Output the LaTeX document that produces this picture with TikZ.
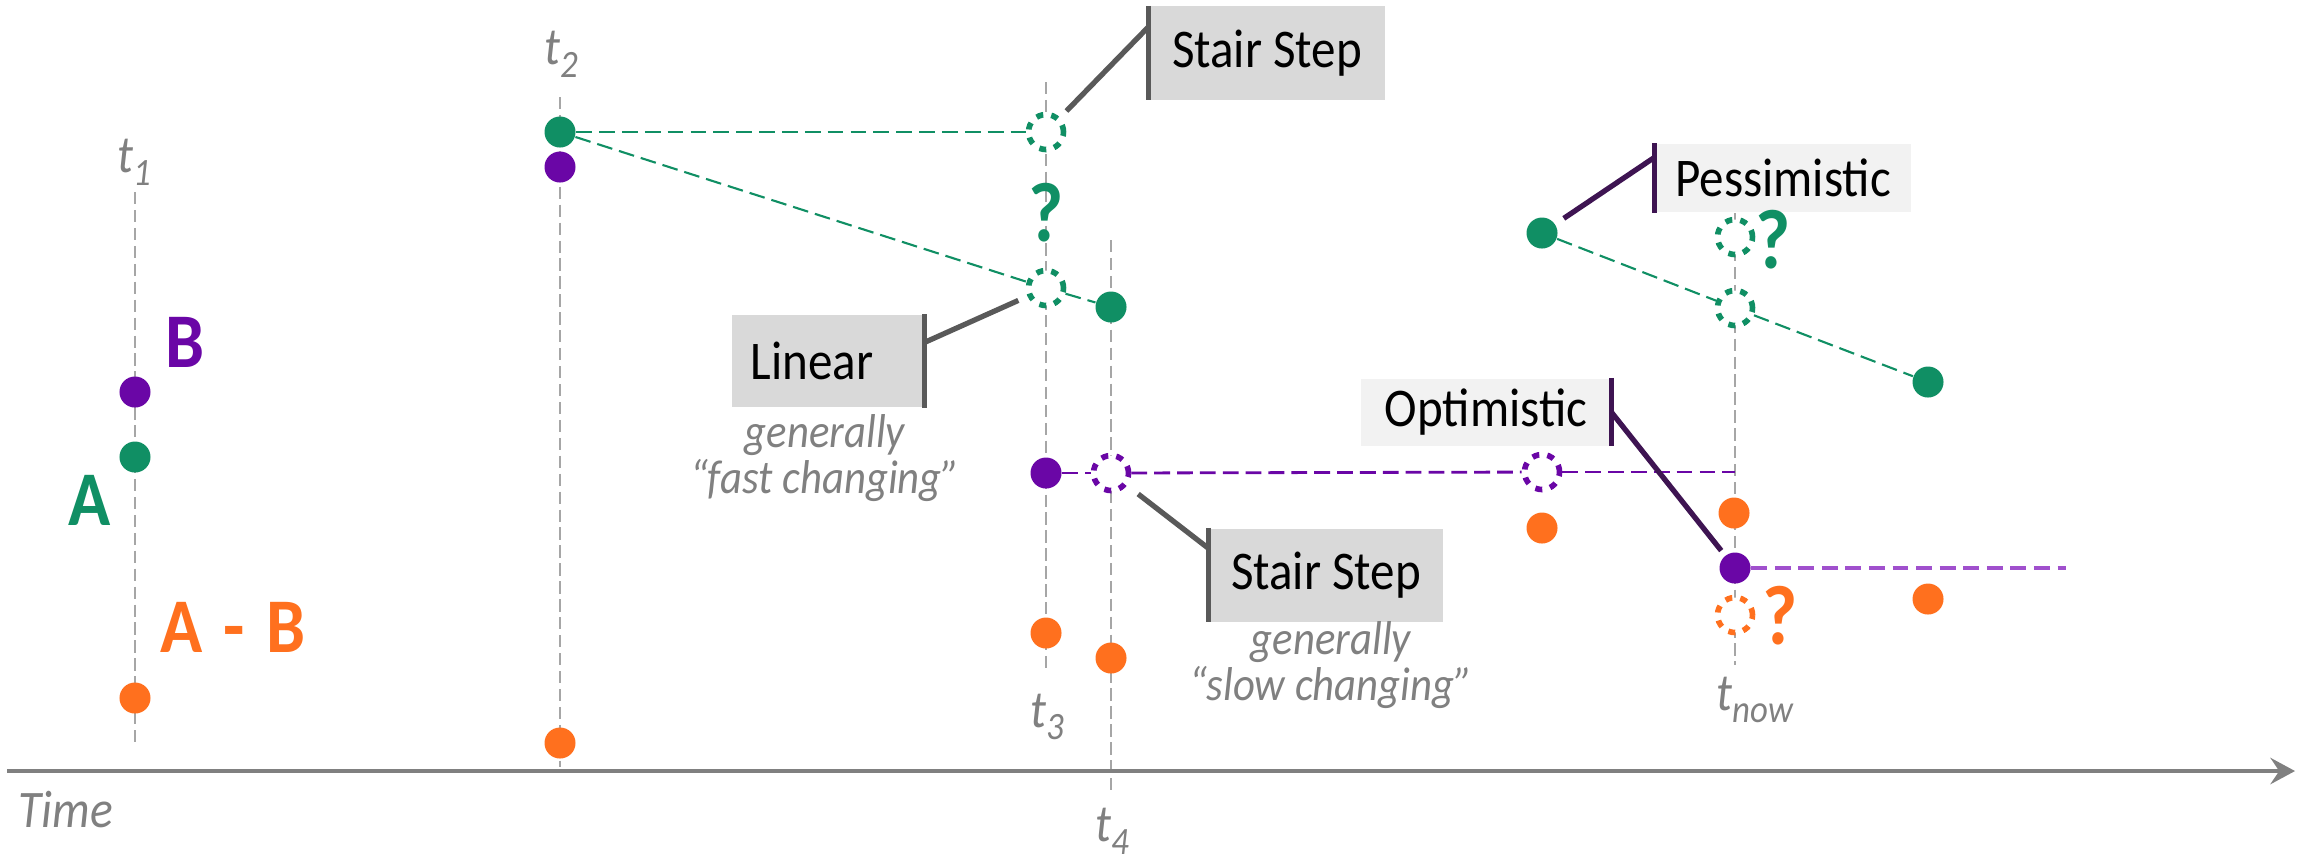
\documentclass[tikz,border=0pt]{standalone}
\usepackage{fontspec}
\setmainfont{Carlito}[FakeStretch=0.9]
\usetikzlibrary{arrows.meta,calc}

\definecolor{cgreen}{RGB}{16,143,100}
\definecolor{cpurple}{RGB}{106,6,166}
\definecolor{corange}{RGB}{255,112,30}
\definecolor{clpurple}{RGB}{160,80,205}
\definecolor{cdpurple}{RGB}{62,20,82}
\definecolor{cgray}{RGB}{128,128,128}
\definecolor{cline}{RGB}{166,166,166}
\definecolor{cdark}{RGB}{89,89,89}
\definecolor{boxdark}{RGB}{217,217,217}
\definecolor{boxlight}{RGB}{242,242,242}

\newcommand{\lowsub}[1]{\raisebox{-0.5ex}{\fontsize{11}{11}\selectfont #1}}

\begin{document}
\begin{tikzpicture}[x=0.01cm,y=-0.01cm,
  dot/.style={circle,fill=#1,inner sep=0pt,minimum size=0.31cm},
  ghost/.style={circle,draw=#1,fill=white,inner sep=0pt,minimum size=0.35cm,
    line width=1.6pt,dash pattern=on 2pt off 2.3pt},
  timeline/.style={cline,line width=0.6pt,dash pattern=on 3.5pt off 1.6pt},
  trend/.style={#1,line width=0.6pt,dash pattern=on 4.5pt off 2pt},
  callout/.style={#1,line width=1.5pt},
  tag/.style={fill=#1,inner sep=0pt,font=\fontsize{15.5}{18}\selectfont,text=black},
  tlabel/.style={text=cgray,font=\itshape\fontsize{15}{18}\selectfont,inner sep=0pt},
  note/.style={text=cgray,font=\itshape\fontsize{13.5}{12}\selectfont,align=center,inner sep=0pt},
  series/.style={text=#1,font=\bfseries\fontsize{22}{24}\selectfont,inner sep=0pt},
  ask/.style={text=#1,font=\bfseries\fontsize{24}{26}\selectfont,inner sep=0pt},
]
\useasboundingbox (0,0) rectangle (2313,859);

% vertical time markers
\coordinate (t1a) at (135,192);  \coordinate (t1b) at (135,743);
\coordinate (t2a) at (560,97);   \coordinate (t2b) at (560,767);
\coordinate (t3a) at (1046,82);  \coordinate (t3b) at (1046,670);
\coordinate (t4a) at (1111,240); \coordinate (t4b) at (1111,792);
\coordinate (tna) at (1735,213); \coordinate (tnb) at (1735,665);
\draw[timeline] (t1a) -- (t1b);
\draw[timeline] (t2a) -- (t2b);
\draw[timeline] (t3a) -- (t3b);
\draw[timeline] (t4a) -- (t4b);
\draw[timeline] (tna) -- (tnb);

% time axis
\coordinate (ax0) at (7,771);
\coordinate (ax1) at (2295,771);
\draw[cgray,line width=1.2pt,-{Stealth[length=7pt,width=7.5pt,inset=2.5pt]}] (ax0) -- (ax1);

% samples
\node[dot=cpurple] (b1) at (135,392) {};
\node[dot=cgreen]  (a1) at (135,457) {};
\node[dot=corange] (d1) at (135,698) {};
\node[dot=cgreen]  (a2) at (560,132) {};
\node[dot=cpurple] (b2) at (560,167) {};
\node[dot=corange] (d2) at (560,743) {};
\node[ghost=cgreen] (as3) at (1046,132) {};
\node[ghost=cgreen] (al3) at (1046,288) {};
\node[dot=cgreen]  (a4) at (1111,307) {};
\node[dot=cpurple] (b3) at (1046,473) {};
\node[ghost=cpurple] (bs4) at (1111,473) {};
\node[dot=corange] (d3) at (1046,633) {};
\node[dot=corange] (d4) at (1111,658) {};
\node[dot=cgreen]  (a5) at (1542,233) {};
\node[ghost=cpurple] (b5) at (1542,472) {};
\node[dot=corange] (d5) at (1542,528) {};
\node[ghost=cgreen] (ap) at (1735,237) {};
\node[ghost=cgreen] (al) at (1735,308) {};
\node[dot=corange] (dn) at (1734,513) {};
\node[dot=cpurple] (bn) at (1735,568) {};
\node[ghost=corange] (dq) at (1735,615) {};
\node[dot=cgreen]  (a6) at (1928,382) {};
\node[dot=corange] (d6) at (1928,599) {};

% estimate lines
\draw[trend=cgreen] (a2) -- (as3);
\draw[trend=cgreen] (a2) -- (al3);
\draw[trend=cgreen] (al3) -- (a4);
\draw[trend=cgreen] (a5) -- (al);
\draw[trend=cgreen] (al) -- (a6);
\coordinate (bend) at (1735,472);
\draw[trend=cpurple,line width=0.8pt] (b3) -- (bs4);
\draw[trend=cpurple,line width=0.8pt] (bs4) -- (b5);
\draw[trend=cpurple,line width=0.8pt] (b5) -- (bend);
\coordinate (bfar) at (2066,568);
\draw[clpurple,line width=1.1pt,dash pattern=on 4.5pt off 2.2pt] (bn) -- (bfar);

% callout boxes
\node[tag=boxdark,minimum width=2.35cm,minimum height=0.93cm] (ss1) at (1267,53) {Stair Step};
\draw[callout=cdark] (ss1.north west) -- (ss1.south west);
\draw[callout=cdark,shorten >=0.09cm] ($(ss1.north west)!0.22!(ss1.south west)$) -- (as3);

\node[tag=boxdark,minimum height=0.92cm,inner xsep=0.19cm,text width=1.54cm,align=left] (lin) at (828,361) {Linear};
\draw[callout=cdark] (lin.north east) -- (lin.south east);
\draw[callout=cdark,shorten >=0.1cm] ($(lin.north east)!0.3!(lin.south east)$) -- (al3);

\node[tag=boxdark,minimum width=2.33cm,minimum height=0.93cm] (ss2) at (1326,575) {Stair Step};
\draw[callout=cdark] (ss2.north west) -- (ss2.south west);
\draw[callout=cdark,shorten >=0.14cm] ($(ss2.north west)!0.22!(ss2.south west)$) -- (bs4);

\node[tag=boxlight,minimum width=2.55cm,minimum height=0.68cm] (pes) at (1783,178) {Pessimistic};
\draw[callout=cdpurple] (pes.north west) -- (pes.south west);
\draw[callout=cdpurple,shorten >=0.1cm] ($(pes.north west)!0.2!(pes.south west)$) -- (a5);

\node[tag=boxlight,minimum width=2.49cm,minimum height=0.67cm] (opt) at (1486,412) {Optimistic};
\draw[callout=cdpurple] (opt.north east) -- (opt.south east);
\draw[callout=cdpurple,shorten >=0.06cm] ($(opt.north east)!0.5!(opt.south east)$) -- (bn);

% notes
\node[note] (fast) at (825,458) {generally\\``fast changing''};
\node[note] (slow) at (1331,665) {generally\\``slow changing''};

% question marks
\node[ask=cgreen]  (q1) at (1046,213) {?};
\node[ask=cgreen]  (q2) at (1773,240) {?};
\node[ask=corange] (q3) at (1780,616) {?};

% series names
\node[series=cpurple] (nb) at (185,342) {B};
\node[series=cgreen]  (na) at (90,500) {A};
\node[series=corange] (nd) at (233,627) {A\hspace{0.28em}-\hspace{0.28em}B};

% time labels
\node[tlabel] (lt1) at (134,162) {t\lowsub{1}};
\node[tlabel] (lt2) at (561,54) {t\lowsub{2}};
\node[tlabel] (lt3) at (1047,717) {t\lowsub{3}};
\node[tlabel] (lt4) at (1112,831) {t\lowsub{4}};
\node[tlabel] (ltn) at (1755,700) {t\lowsub{now}};
\node[tlabel] (ltime) at (66,810) {Time};
\end{tikzpicture}
\end{document}
